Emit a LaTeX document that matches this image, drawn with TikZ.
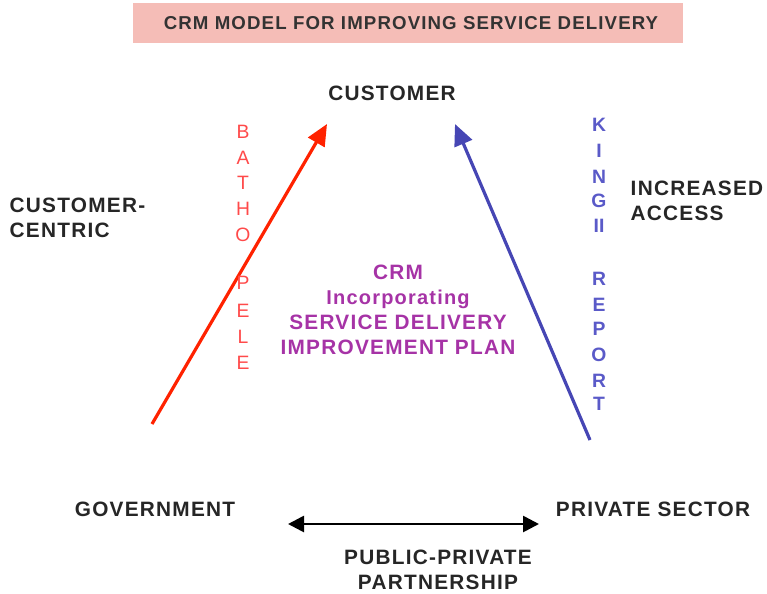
\documentclass[tikz,border=0pt]{standalone}
\usepackage{fontspec}
\setmainfont{Liberation Sans}
\newfontfamily\espaciada[LetterSpace=6]{Liberation Sans}
\usetikzlibrary{arrows.meta}

\definecolor{rosa}{HTML}{F5BDB7}
\definecolor{rojo}{HTML}{FF2200}
\definecolor{rojoclaro}{HTML}{FF4A4A}
\definecolor{azul}{HTML}{4646B4}
\definecolor{azulclaro}{HTML}{5A5AC8}
\definecolor{morado}{HTML}{A633A6}

\begin{document}
\begin{tikzpicture}[x=0.75pt,y=-0.75pt,
    etiqueta/.style={font=\espaciada\bfseries\fontsize{15.6}{18.75}\selectfont, text=black!85},
    letra/.style={font=\fontsize{14.5}{16}\selectfont},
    flecha/.style={line width=2.4pt, -{Triangle[length=16pt,width=14pt]}}]
  \useasboundingbox (0,0) rectangle (767,593);

  % Titulo
  \fill[rosa] (133,3) rectangle (683,43);
  \node[font=\espaciada\bfseries\fontsize{14}{16}\selectfont, text=black!80] (titulo) at (411,23) {CRM MODEL FOR IMPROVING SERVICE DELIVERY};

  % Los tres vertices del triangulo
  \node[etiqueta] (customer) at (392,93) {CUSTOMER};
  \node[etiqueta] (gobierno) at (155,509) {GOVERNMENT};
  \node[etiqueta] (privado) at (653,509) {PRIVATE SECTOR};

  % Textos laterales
  \node[etiqueta, align=left, anchor=west] (centric) at (5,218) {CUSTOMER-\\CENTRIC};
  \node[etiqueta, align=left, anchor=west] (acceso) at (626,201) {INCREASED\\ACCESS};
  \node[etiqueta, align=center] (ppp) at (438,570) {PUBLIC-PRIVATE\\PARTNERSHIP};

  % Texto central
  \node[etiqueta, text=morado, align=center] (crm) at (398,310)
    {CRM\\{\fontsize{15}{18.75}\selectfont Incorporating}\\SERVICE DELIVERY\\IMPROVEMENT PLAN};

  % Extremos de las flechas
  \coordinate (r1) at (152,424);   % cola flecha roja
  \coordinate (r2) at (327,124);   % punta flecha roja
  \coordinate (b1) at (590,440);   % cola flecha azul
  \coordinate (b2) at (455,124);   % punta flecha azul
  \coordinate (h1) at (288,524);   % extremo izquierdo
  \coordinate (h2) at (539,524);   % extremo derecho

  % Flechas
  \draw[flecha, rojo] (r1) -- (r2);
  \draw[flecha, azul] (b1) -- (b2);
  \draw[line width=2pt, {Triangle[length=12pt,width=12pt]}-{Triangle[length=12pt,width=12pt]}] (h1) -- (h2);

  % Batho Pele
  \foreach \l/\y [count=\i] in {B/132,A/158,T/183,H/209,O/235,P/283,E/311,L/337,E/363}
    \node[letra, text=rojoclaro] (bp\i) at (243,\y) {\l};

  % King II Report
  \foreach \l/\y [count=\i] in {K/125,I/151,N/177,G/201,II/226,R/279,E/305,P/329,O/355,R/381,T/404}
    \node[letra, text=azulclaro, font=\bfseries\fontsize{14.5}{16}\selectfont] (kr\i) at (599,\y) {\l};

\end{tikzpicture}
\end{document}
